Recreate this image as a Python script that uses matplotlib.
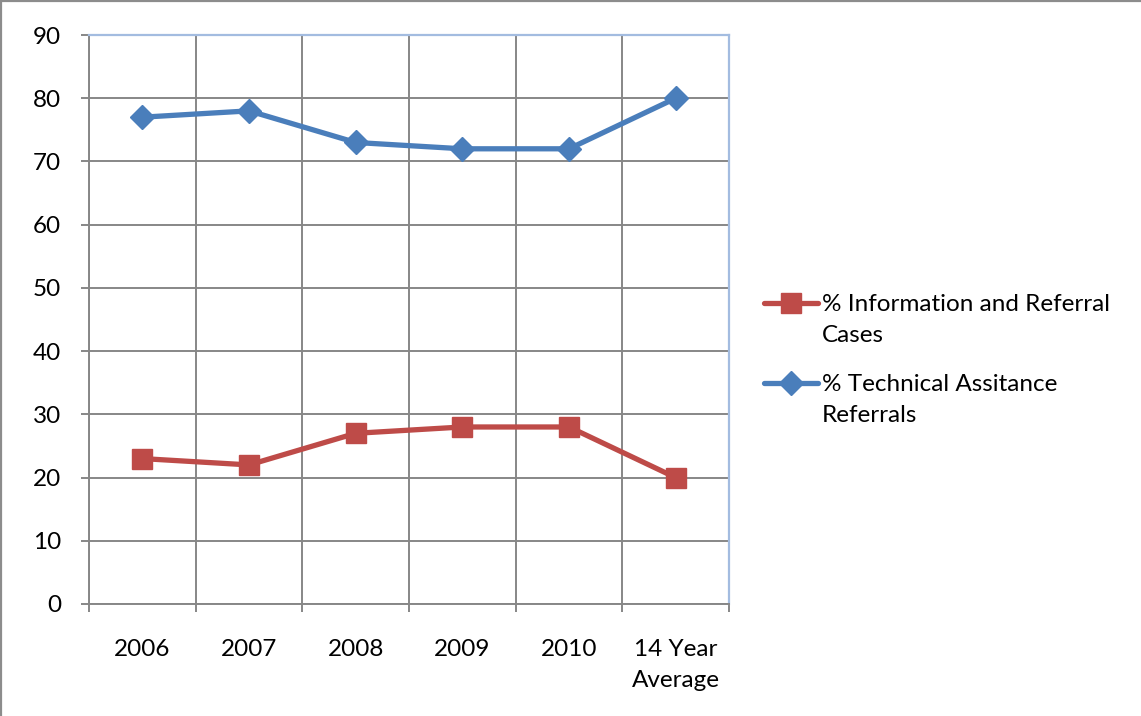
import matplotlib
matplotlib.use("Agg")
import matplotlib.pyplot as plt
from matplotlib.lines import Line2D
import numpy as np

categories = ["2006", "2007", "2008", "2009", "2010", "14 Year\nAverage"]
info_referral = [23, 22, 27, 28, 28, 20]
tech_assist = [77, 78, 73, 72, 72, 80]
series_labels = ["% Information and Referral\nCases", "% Technical Assitance\nReferrals"]
y_ticks = list(range(0, 100, 10))

RED = "#BE4B48"
BLUE = "#4A7EBB"
GRID = "#878787"
FRAME_BLUE = "#A3BCE0"
FS = 17.5

plt.rcParams["font.family"] = ["Lato", "DejaVu Sans"]

W, H = 1141, 716
fig = plt.figure(figsize=(W / 100, H / 100), dpi=100, facecolor="white")
ax = fig.add_axes([89 / W, 1 - 604 / H, (729 - 89) / W, (604 - 35) / H])

x = np.arange(len(categories))
ax.plot(x, info_referral, color=RED, lw=3.8, marker="s", ms=14, zorder=3,
        solid_capstyle="round")
ax.plot(x, tech_assist, color=BLUE, lw=3.8, marker="D", ms=12, zorder=3,
        solid_capstyle="round")

ax.set_xlim(-0.5, len(categories) - 0.5)
ax.set_ylim(0, 90)
ax.set_yticks(y_ticks)
ax.set_xticks(x)
ax.set_xticklabels(categories, fontsize=FS, linespacing=1.6)
ax.set_xticks(np.arange(len(categories) + 1) - 0.5, minor=True)
ax.tick_params(axis="x", which="major", length=0, pad=25)
ax.tick_params(axis="x", which="minor", length=6, width=1.4, color=GRID)
ax.tick_params(axis="y", length=6, width=1.4, color=GRID, pad=14, labelsize=FS)

ax.grid(axis="y", which="major", color=GRID, lw=1.4)
ax.grid(axis="x", which="minor", color=GRID, lw=1.4)
ax.set_axisbelow(True)

for side in ("left", "bottom"):
    ax.spines[side].set_color(GRID)
    ax.spines[side].set_linewidth(1.4)
for side in ("top", "right"):
    ax.spines[side].set_color(FRAME_BLUE)
    ax.spines[side].set_linewidth(1.6)

# legend drawn by hand so the key sits on the first label line
legend_rows = [(RED, "s", 14, 303), (BLUE, "D", 12, 383)]
for (color, mk, ms, yc), label in zip(legend_rows, series_labels):
    yf = 1 - yc / H
    fig.add_artist(Line2D([764 / W, 818 / W], [yf, yf], color=color, lw=3.8,
                          solid_capstyle="round"))
    fig.add_artist(Line2D([791 / W], [yf], color=color, marker=mk, ms=ms, lw=0))
    fig.text(822 / W, 1 - (yc - 9) / H, label, fontsize=FS, va="top",
             ha="left", linespacing=1.6)

# outer chart border (top and left edges)
fig.add_artist(Line2D([1 / W, 1 / W], [0, 1], color="#8C8C8C", lw=1.6))
fig.add_artist(Line2D([0, 1], [1 - 1 / H, 1 - 1 / H], color="#8C8C8C", lw=1.6))

fig.savefig("out.png", dpi=100, facecolor="white")
